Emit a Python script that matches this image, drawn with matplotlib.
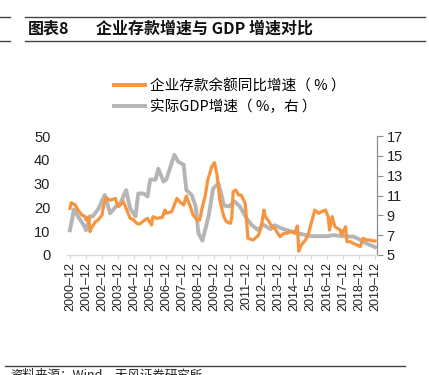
import matplotlib
matplotlib.use("Agg")
import matplotlib.pyplot as plt
from matplotlib.lines import Line2D

plt.rcParams['font.family'] = ['Liberation Sans', 'Noto Sans CJK SC', 'DejaVu Sans']

# ---- data ----
dep_dates = ["2000-12","2001-01","2001-04","2001-06","2001-09","2001-11","2001-12","2002-02","2002-03","2002-04",
             "2002-07","2002-09","2002-12","2003-01","2003-03","2003-06","2003-10","2003-12","2004-04","2004-06",
             "2004-09","2004-11","2005-02","2005-04","2005-08","2005-10","2006-01","2006-02","2006-05","2006-09",
             "2006-11","2006-12","2007-04","2007-08","2007-10","2008-01","2008-03","2008-06","2008-08","2008-11",
             "2009-01","2009-03","2009-05","2009-07","2009-10","2009-12","2010-02","2010-04","2010-07","2010-09",
             "2010-12","2011-01","2011-02","2011-04","2011-06","2011-08","2011-11","2011-12","2012-01","2012-05",
             "2012-09","2012-11","2013-01","2013-02","2013-04","2013-07","2013-09","2014-01","2014-04","2014-06",
             "2014-09","2014-12","2015-02","2015-03","2015-05","2015-08","2015-10","2016-01","2016-03","2016-06",
             "2016-08","2016-11","2017-01","2017-02","2017-04","2017-06","2017-10","2017-11","2018-02","2018-03",
             "2018-05","2018-08","2018-12","2019-01","2019-03","2019-06","2019-08","2019-11","2019-12"]
dep_growth = [19.6, 22.0, 21.0, 18.9, 16.8, 16.3, 14.7, 16.1, 9.8, 11.2,
              14.0, 14.7, 16.8, 20.3, 24.2, 23.0, 23.8, 20.3, 22.4, 19.6,
              15.4, 15.0, 13.3, 13.0, 14.7, 15.4, 12.6, 16.1, 15.4, 15.8,
              18.9, 17.5, 18.2, 23.8, 22.4, 21.0, 24.8, 20.3, 16.8, 14.7,
              14.7, 20.3, 24.5, 31.5, 37.1, 38.8, 33.6, 23.1, 16.1, 14.0,
              13.3, 16.1, 26.6, 27.3, 25.2, 25.2, 21.7, 14.7, 7.0, 6.3,
              8.4, 11.9, 18.9, 16.1, 14.7, 11.9, 11.2, 7.7, 9.1, 9.1,
              9.8, 9.1, 12.2, 1.6, 4.2, 6.3, 8.4, 14.7, 18.9, 17.5,
              18.2, 18.9, 16.1, 10.5, 16.1, 11.9, 10.5, 8.4, 11.9, 5.6,
              5.6, 4.9, 3.8, 3.5, 7.0, 6.3, 6.3, 5.9, 5.9]

gdp_dates = ["2000-12","2001-03","2001-06","2001-11","2001-12","2002-03","2002-05","2002-09","2003-02","2003-06",
             "2003-11","2004-01","2004-06","2004-09","2005-01","2005-03","2005-07","2005-10","2005-12","2006-04",
             "2006-06","2006-10","2006-12","2007-06","2007-09","2008-01","2008-03","2008-07","2008-10","2008-12",
             "2009-03","2009-06","2009-08","2009-11","2010-03","2010-05","2010-07","2010-11","2011-03","2011-07",
             "2011-12","2012-04","2012-09","2012-12","2013-03","2013-06","2013-09","2014-02","2014-06","2014-09",
             "2015-02","2015-12","2016-12","2017-05","2017-12","2018-08","2018-12","2019-05","2019-12"]
gdp_growth = [7.5, 9.6, 8.9, 7.85, 7.5, 8.9, 8.9, 9.6, 11.05, 9.2,
              10.0, 10.0, 11.55, 9.7, 8.9, 11.2, 11.2, 10.9, 12.6, 12.6,
              13.7, 12.4, 12.6, 15.1, 14.4, 14.1, 11.55, 11.05, 9.9, 7.2,
              6.45, 8.0, 9.2, 11.7, 12.2, 11.2, 10.0, 9.9, 10.4, 9.9,
              8.7, 8.0, 7.5, 8.1, 7.85, 7.6, 8.0, 7.7, 7.5, 7.4,
              7.2, 6.9, 6.9, 7.0, 6.9, 6.85, 6.6, 6.2, 5.8]

tick_labels = [f"{y}–12" for y in range(2000, 2020)]

dep_label = "企业存款余额同比增速（ % ）"
gdp_label = "实际GDP增速（ %，右 ）"
title_num = "图表8"
title = "企业存款增速与 GDP 增速对比"
source = "资料来源：Wind，天风证券研究所"


def month_index(s):
    y, m = s.replace("–", "-").split("-")
    return (int(y) - 2000) * 12 + int(m) - 12


dep_x = [month_index(d) for d in dep_dates]
gdp_x = [month_index(d) for d in gdp_dates]
tick_x = [month_index(t) for t in tick_labels]

ORANGE = "#F7943F"
GREY = "#B5B5B5"
CJK = ['Noto Sans CJK SC', 'DejaVu Sans']

fig = plt.figure(figsize=(4.29, 3.75), dpi=100)
W, H = 429, 375

ax = fig.add_axes([67 / W, 1 - 255 / H, (377 - 67) / W, (255 - 136) / H])
ax2 = ax.twinx()

ax.plot(dep_x, dep_growth, color=ORANGE, lw=2.3, solid_joinstyle='round', zorder=3)
ax2.plot(gdp_x, gdp_growth, color=GREY, lw=2.8, solid_joinstyle='round')
ax.set_zorder(ax2.get_zorder() + 1)
ax.patch.set_visible(False)

ax.set_xlim(-2.2, 229.5)
ax.set_ylim(0, 50)
ax2.set_ylim(5, 17)
ax.set_yticks(range(0, 51, 10))
ax2.set_yticks(range(5, 18, 2))

ax.set_xticks(tick_x)
ax.set_xticklabels(tick_labels, rotation=90, fontsize=9, color="#222222")

for s in ["top", "left", "right"]:
    ax.spines[s].set_visible(False)
    ax2.spines[s].set_visible(False)
ax2.spines["bottom"].set_visible(False)
ax.spines["bottom"].set_color("#D9D9D9")
ax.spines["bottom"].set_linewidth(1.0)
ax2.spines["right"].set_visible(True)
ax2.spines["right"].set_color("#8C8C8C")
ax2.spines["right"].set_linewidth(0.9)

ax.tick_params(axis='x', length=3, color="#D9D9D9", pad=2)
ax.tick_params(axis='y', length=0, labelsize=10.5, labelcolor="#222222", pad=12)
ax2.tick_params(axis='y', length=4, color="#8C8C8C", labelsize=10.5, labelcolor="#222222", pad=3)

# legend
handles = [Line2D([], [], color=ORANGE, lw=2.8), Line2D([], [], color=GREY, lw=2.8)]
fig.legend(handles, [dep_label, gdp_label], loc="upper left",
           bbox_to_anchor=(114 / W, 1 - 79 / H), frameon=False,
           handlelength=2.1, handletextpad=0.35, labelspacing=0.45,
           borderpad=0, borderaxespad=0,
           prop={'family': CJK, 'size': 10.5})

# header lines and title
for yy in (17, 41):
    fig.add_artist(Line2D([0, 10 / W], [1 - yy / H] * 2, color="#444444", lw=1.0))
    fig.add_artist(Line2D([25 / W, 425 / W], [1 - yy / H] * 2, color="#444444", lw=1.0))
fig.text(28 / W, 1 - 29 / H, title_num, fontsize=11.5, fontweight='bold', va='center', ha='left',
         family=CJK, color="#111111")
fig.text(96 / W, 1 - 29 / H, title, fontsize=11.5, fontweight='bold', va='center', ha='left',
         family=CJK, color="#111111")

# footer
fig.add_artist(Line2D([5 / W, 405 / W], [1 - 366 / H] * 2, color="#444444", lw=1.0))
fig.text(10 / W, 1 - 369 / H, source, fontsize=9, va='top', ha='left',
         family=CJK, color="#222222")

fig.savefig("out.png", dpi=100)
